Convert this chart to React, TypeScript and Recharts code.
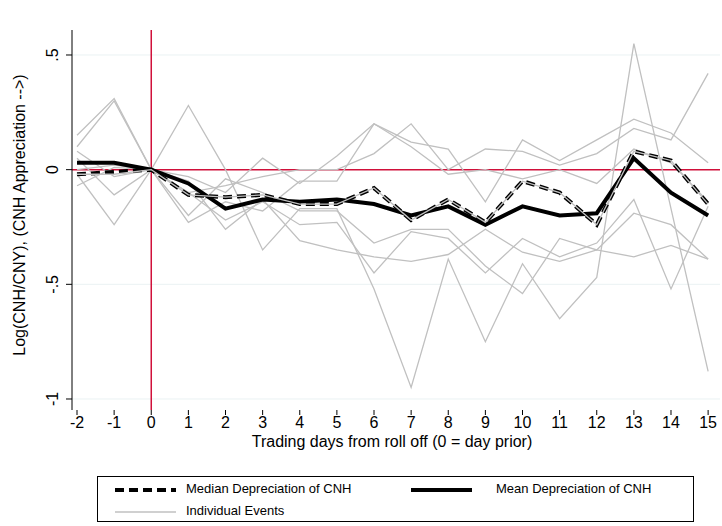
import React from 'react';
import { LineChart, Line, XAxis, YAxis, CartesianGrid, ReferenceLine } from 'recharts';

const days = [-2, -1, 0, 1, 2, 3, 4, 5, 6, 7, 8, 9, 10, 11, 12, 13, 14, 15];
const meanDep = [0.03, 0.03, 0, -0.06, -0.17, -0.13, -0.14, -0.13, -0.15, -0.2, -0.16, -0.24, -0.16, -0.2, -0.19, 0.05, -0.1, -0.2];
const medianDep = [-0.02, -0.01, 0, -0.11, -0.12, -0.11, -0.15, -0.15, -0.08, -0.22, -0.13, -0.23, -0.05, -0.1, -0.24, 0.08, 0.04, -0.15];
const event1 = [0.15, 0.31, 0, 0.28, 0.0, -0.35, -0.17, -0.17, -0.52, -0.95, -0.39, -0.75, -0.41, -0.65, -0.47, 0.55, -0.17, -0.88];
const event2 = [0.1, 0.3, 0, -0.03, -0.1, 0.05, -0.06, 0.06, 0.2, 0.12, 0.09, -0.14, 0.13, 0.04, 0.13, 0.22, 0.16, 0.03];
const event3 = [0.08, -0.03, 0, -0.1, -0.07, -0.03, 0.0, 0.0, 0.07, 0.2, 0.0, 0.09, 0.08, 0.02, 0.07, 0.18, 0.13, 0.42];
const event4 = [0.05, -0.11, 0, -0.23, -0.14, -0.18, -0.05, -0.05, 0.2, 0.1, -0.02, 0.0, -0.04, 0.0, -0.06, 0.09, 0.03, -0.14];
const event5 = [-0.02, -0.24, 0, -0.2, -0.04, -0.1, -0.18, -0.18, -0.32, -0.26, -0.26, -0.42, -0.54, -0.3, -0.35, -0.19, -0.24, -0.39];
const event6 = [-0.07, 0.01, 0, -0.05, -0.26, -0.13, -0.31, -0.35, -0.38, -0.4, -0.37, -0.26, -0.36, -0.4, -0.35, -0.38, -0.33, -0.39];
const event7 = [-0.02, -0.02, 0, -0.11, -0.12, -0.11, -0.15, -0.15, -0.08, -0.22, -0.13, -0.23, -0.05, -0.1, -0.24, 0.08, 0.04, -0.15];
const event8 = [0.0, 0.02, 0, -0.1, -0.22, -0.14, -0.24, -0.23, -0.45, -0.27, -0.3, -0.45, -0.3, -0.38, -0.32, -0.13, -0.52, -0.16];

const events = [event1, event2, event3, event4, event5, event6, event8];
const xTicks = days;
const yTicks = [-1, -0.5, 0, 0.5];
const yTickLabels: Record<string, string> = { '-1': '-1', '-0.5': '-.5', '0': '0', '0.5': '.5' };

const data = days.map((d, i) => {
  const row: Record<string, number> = { day: d, mean: meanDep[i], median: medianDep[i], e7: event7[i] };
  events.forEach((e, k) => (row['e' + k] = e[i]));
  return row;
});

const font = 'Liberation Sans, Arial, sans-serif';
const red = '#d0103a';

const YTick = (props: any) => {
  const { x, y, payload } = props;
  return (
    <text x={x - 6} y={y} transform={`rotate(-90, ${x - 6}, ${y})`} textAnchor="middle" fontSize={16} fill="#000" fontFamily={font}>
      {yTickLabels[String(payload.value)]}
    </text>
  );
};

export default function App() {
  return (
    <div style={{ position: 'absolute', left: 0, top: 0, width: 722, height: 526, background: '#fff', fontFamily: font }}>
      <LineChart width={722} height={526} data={data} margin={{ top: 30, right: 2, left: 12, bottom: 76 }}>
        <CartesianGrid horizontal vertical={false} stroke="#eaf2f3" horizontalValues={[-1, -0.5, 0.5]} />
        <XAxis
          dataKey="day"
          type="number"
          domain={[-2.135, 15.32]}
          ticks={xTicks}
          interval={0}
          axisLine={false}
          tickLine={{ stroke: '#000' }}
          tickSize={5}
          tick={{ fontSize: 16, fill: '#000', fontFamily: font }}
          height={40}
          label={{ value: 'Trading days from roll off (0 = day prior)', position: 'insideTop', offset: 26, fontSize: 16, fill: '#000', fontFamily: font, dx: -4 }}
        />
        <YAxis
          type="number"
          domain={[-1.048, 0.609]}
          ticks={yTicks}
          width={60}
          axisLine={{ stroke: '#000' }}
          tickLine={{ stroke: '#000' }}
          tickSize={6}
          tick={<YTick />}
          allowDataOverflow
        />
        <ReferenceLine x={0} stroke={red} strokeWidth={1.5} />
        <ReferenceLine y={0} stroke={red} strokeWidth={1.5} />
        {events.map((_, k) => (
          <Line key={k} dataKey={'e' + k} stroke="#c0c0c0" strokeWidth={1.3} dot={false} isAnimationActive={false} />
        ))}
        <Line dataKey="mean" stroke="#000" strokeWidth={4} dot={false} isAnimationActive={false} />
        <Line dataKey="median" stroke="#000" strokeWidth={4} strokeDasharray="9 5" dot={false} isAnimationActive={false} />
        <Line dataKey="e7" stroke="#c0c0c0" strokeWidth={1.3} dot={false} isAnimationActive={false} />
      </LineChart>
      <div style={{ position: 'absolute', left: 20, top: 215, transform: 'translate(-50%,-50%) rotate(-90deg)', whiteSpace: 'nowrap', fontSize: 16 }}>
        Log(CNH/CNY), (CNH Appreciation --&gt;)
      </div>
      <div style={{ position: 'absolute', left: 97, top: 476, width: 597, height: 46, border: '1px solid #000', boxSizing: 'border-box', fontSize: 13 }}>
        <svg width={597} height={46} style={{ position: 'absolute', left: 0, top: 0 }}>
          <line x1={17} y1={13} x2={78} y2={13} stroke="#000" strokeWidth={4} strokeDasharray="9 5" />
          <line x1={313} y1={13} x2={374} y2={13} stroke="#000" strokeWidth={4} />
          <line x1={17} y1={35} x2={78} y2={35} stroke="#c0c0c0" strokeWidth={1.3} />
        </svg>
        <span style={{ position: 'absolute', left: 88, top: 4 }}>Median Depreciation of CNH</span>
        <span style={{ position: 'absolute', left: 398, top: 4 }}>Mean Depreciation of CNH</span>
        <span style={{ position: 'absolute', left: 88, top: 26 }}>Individual Events</span>
      </div>
    </div>
  );
}
